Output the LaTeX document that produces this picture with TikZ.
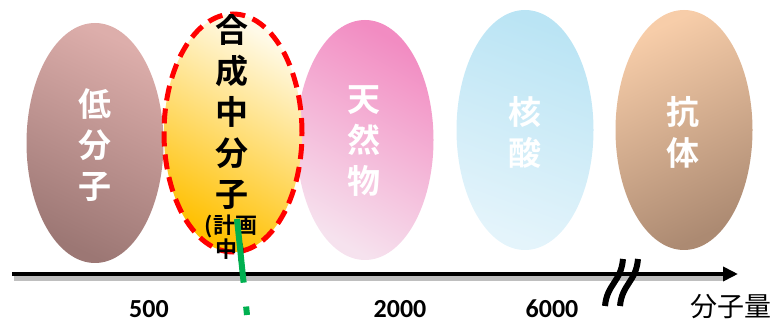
\documentclass[tikz,border=0pt]{standalone}
\usepackage{fontspec}
\newfontfamily\cjk{Noto Sans CJK JP}[BoldFont={Noto Sans CJK JP Bold}]
\newfontfamily\numfont{Carlito}
\usetikzlibrary{shapes.geometric,arrows.meta}
\definecolor{lowtop}{RGB}{221,174,171}
\definecolor{lowbot}{RGB}{156,119,116}
\definecolor{midtop}{RGB}{255,250,232}
\definecolor{midmid}{RGB}{255,218,100}
\definecolor{midbot}{RGB}{255,192,0}
\definecolor{nattop}{RGB}{242,140,194}
\definecolor{natmid}{RGB}{216,108,164}
\definecolor{natbot}{RGB}{246,226,238}
\definecolor{nuctop}{RGB}{186,228,244}
\definecolor{nucbot}{RGB}{228,244,251}
\definecolor{abtop}{RGB}{247,205,169}
\definecolor{abbot}{RGB}{172,138,114}
\definecolor{grn}{RGB}{0,176,80}
\tikzset{
  blob/.style={ellipse, inner sep=0pt, minimum width=137pt, minimum height=240pt},
  wlabel/.style={text=white, font=\cjk\bfseries\fontsize{33}{41}\selectfont, align=center, inner sep=0pt},
  blabel/.style={text=black, font=\cjk\bfseries\fontsize{33}{41}\selectfont, align=center, inner sep=0pt},
  numlabel/.style={font=\numfont\bfseries\fontsize{26}{28}\selectfont, anchor=base, inner sep=0pt, text depth=0pt},
  axisline/.style={line width=4pt, -{Triangle[length=15pt,width=14pt]}},
  breakstroke/.style={line width=6pt, black}
}
\begin{document}
\begin{tikzpicture}[x=1pt,y=-1pt]
\useasboundingbox (0,0) rectangle (777,323);
% ellipses
\node[blob, top color=lowtop, bottom color=lowbot, shading angle=-25] (low) at (95,143) {};
\node[blob, top color=nattop, middle color=natmid, bottom color=natbot, shading angle=-30] (nat) at (365,140) {};
\node[blob, top color=nuctop, bottom color=nucbot, shading angle=-20] (nuc) at (525,130) {};
\node[blob, top color=abtop, bottom color=abbot, shading angle=25] (ab) at (684,130) {};
\node[blob, minimum width=138pt, minimum height=238pt, top color=midtop, middle color=midmid, bottom color=midbot, shading angle=-30,
      draw=red, line width=5pt, dash pattern=on 15pt off 8pt] (mid) at (233,133) {};
% labels
\node[wlabel] (tlow) at (95,145) {低\\分\\子};
\node[blabel] (tmid) at (232,112) {合\\成\\中\\分\\子};
\node[text=black, font=\cjk\bfseries\fontsize{22}{24}\selectfont, align=center, inner sep=0pt] (tplan) at (231,238) {(計画\\中)};
\node[wlabel] (tnat) at (364,141) {天\\然\\物};
\node[wlabel] (tnuc) at (525,132) {核\\酸};
\node[wlabel] (tab) at (683,132) {抗\\体};
% axis
\coordinate (a0) at (12,274);
\coordinate (a1) at (738,274);
\draw[line width=5pt, black!25] (14,279) -- (725,279);
\draw[axisline] (a0) -- (a1);
% break mark
\draw[breakstroke] (605,306) .. controls (607,284) and (621,282) .. (623,259);
\draw[breakstroke] (620,306) .. controls (622,284) and (636,282) .. (638,259);
% green marker
\coordinate (g0) at (237,219);
\coordinate (g1) at (247,315);
\draw[grn, line width=6pt, dash pattern=on 64pt off 24pt] (g0) -- (g1);
% numbers
\node[numlabel] (n500) at (149,318) {500};
\node[numlabel] (n2000) at (400,318) {2000};
\node[numlabel] (n6000) at (552,318) {6000};
\node[font=\cjk\fontsize{27}{30}\selectfont, inner sep=0pt] (unit) at (731,307) {分子量};
\end{tikzpicture}
\end{document}
